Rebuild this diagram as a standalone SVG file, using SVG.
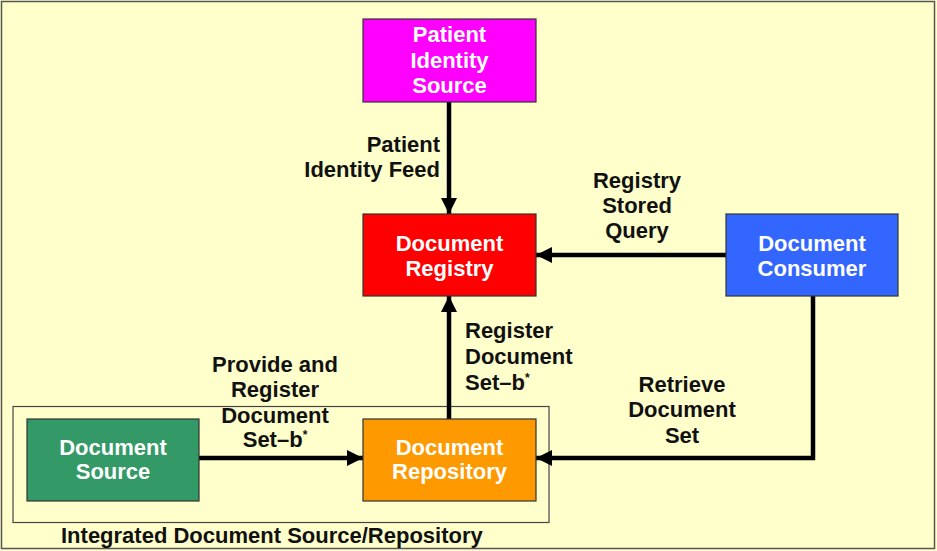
<svg xmlns="http://www.w3.org/2000/svg" width="937" height="551" viewBox="0 0 937 551">
<style>
.node rect{stroke:#333;stroke-width:1.2}
.nt{font-family:"Liberation Sans",Arial,sans-serif;font-weight:bold;font-size:22px;fill:#fff;text-anchor:middle}
.lt{font-family:"Liberation Sans",Arial,sans-serif;font-weight:bold;font-size:22px;fill:#111}
.c{fill:none;stroke:#000;stroke-width:4.5;marker-end:url(#ah)}
.sup{font-size:12px}
</style>
<defs>
<marker id="ah" viewBox="0 0 16 16" refX="16" refY="8" markerWidth="16" markerHeight="16" markerUnits="userSpaceOnUse" orient="auto">
<path d="M0,0 L16,8 L0,16 z" fill="#000"/>
</marker>
</defs>
<rect x="0" y="0" width="937" height="551" fill="#FFFFCC"/>
<rect x="1.5" y="1.5" width="933" height="547" fill="none" stroke="#555" stroke-width="1.5"/>
<g id="integrated">
<rect x="13" y="406.5" width="536" height="116" fill="none" stroke="#444" stroke-width="1.2"/>
<text class="lt" x="61" y="543">Integrated Document Source/Repository</text>
</g>
<g id="connectors">
<path class="c" d="M449,102 L449,214"/>
<path class="c" d="M726,255 L536,255"/>
<path class="c" d="M449,419 L449,296"/>
<path class="c" d="M199,458 L363,458"/>
<path class="c" d="M813,296 L813,458 L536,458"/>
<text class="lt" text-anchor="end"><tspan x="440" y="152">Patient</tspan><tspan x="440" y="177">Identity Feed</tspan></text>
<text class="lt" text-anchor="middle"><tspan x="637" y="188">Registry</tspan><tspan x="637" y="213">Stored</tspan><tspan x="637" y="238">Query</tspan></text>
<text class="lt"><tspan x="465" y="338">Register</tspan><tspan x="465" y="364">Document</tspan><tspan x="465" y="390">Set–b<tspan class="sup" dy="-8">*</tspan></tspan></text>
<text class="lt" text-anchor="middle"><tspan x="275" y="372">Provide and</tspan><tspan x="275" y="397">Register</tspan><tspan x="275" y="423">Document</tspan><tspan x="275" y="447">Set–b<tspan class="sup" dy="-8">*</tspan></tspan></text>
<text class="lt" text-anchor="middle"><tspan x="682" y="392">Retrieve</tspan><tspan x="682" y="417">Document</tspan><tspan x="682" y="443">Set</tspan></text>
</g>
<g id="patient-identity-source" class="node">
<rect x="363" y="19" width="173" height="83" fill="#FF00FF"/>
<text class="nt"><tspan x="449.5" y="42">Patient</tspan><tspan x="449.5" y="68">Identity</tspan><tspan x="449.5" y="93">Source</tspan></text>
</g>
<g id="document-registry" class="node">
<rect x="363" y="214" width="173" height="82" fill="#FF0000"/>
<text class="nt"><tspan x="449.5" y="251">Document</tspan><tspan x="449.5" y="276">Registry</tspan></text>
</g>
<g id="document-consumer" class="node">
<rect x="726" y="214" width="172" height="82" fill="#3366FF"/>
<text class="nt"><tspan x="812" y="251">Document</tspan><tspan x="812" y="276">Consumer</tspan></text>
</g>
<g id="document-source" class="node">
<rect x="27" y="419" width="172" height="82" fill="#339966"/>
<text class="nt"><tspan x="113" y="455">Document</tspan><tspan x="113" y="479">Source</tspan></text>
</g>
<g id="document-repository" class="node">
<rect x="363" y="419" width="173" height="82" fill="#FF9900"/>
<text class="nt"><tspan x="449.5" y="455">Document</tspan><tspan x="449.5" y="479">Repository</tspan></text>
</g>
</svg>
